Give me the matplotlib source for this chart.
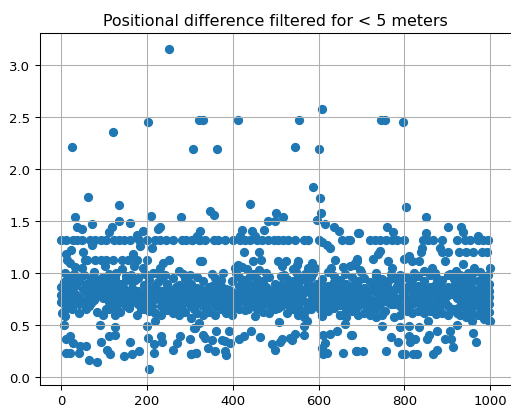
import matplotlib
matplotlib.use('Agg')
import matplotlib.pyplot as plt

# punti isolati in alto
top_x = [25, 121, 202, 251, 306, 322, 331, 362, 411, 546, 555, 602, 608, 746, 755, 797]
top_y = [2.21, 2.35, 2.45, 3.15, 2.19, 2.47, 2.47, 2.19, 2.47, 2.21, 2.47, 2.19, 2.57, 2.47, 2.47, 2.45]

upper_x = [62, 135, 32, 209, 278, 71, 135, 160, 37, 47, 117, 112, 229, 225, 191, 176, 184, 71, 211,
           587, 603, 606, 347, 355, 440, 501, 518, 483, 498, 597, 615, 635, 648, 323, 316, 421, 444, 473, 693, 452, 417,
           607, 619, 627, 803, 851, 759, 903, 932, 936, 695, 773, 851, 973]
upper_y = [1.73, 1.65, 1.54, 1.55, 1.535, 1.47, 1.50, 1.48, 1.44, 1.42, 1.44, 1.39, 1.44, 1.42, 1.40, 1.37, 1.26, 1.27, 1.24,
           1.83, 1.72, 1.58, 1.60, 1.56, 1.66, 1.58, 1.54, 1.50, 1.50, 1.51, 1.47, 1.44, 1.40, 1.40, 1.36, 1.41, 1.40, 1.41, 1.38, 1.36, 1.36,
           1.30, 1.27, 1.24, 1.63, 1.54, 1.44, 1.44, 1.44, 1.39, 1.38, 1.39, 1.38, 1.36]

# valore che si ripete intorno a 1.32
row132_x = [-1, 11, 26, 37, 47, 67, 79, 92, 104, 123, 135, 147, 159, 180, 199, 219, 230, 243, 261, 281, 291, 304, 320,
            304, 323, 335, 355, 366, 382, 401, 417, 428, 440, 456, 467, 483, 495, 506, 518, 529, 545, 565, 576, 600,
            655, 673, 669, 720, 732, 743, 757, 771, 782, 800, 843, 856, 868, 887, 922, 942, 953, 973, 984, 996]
row132_y = 1.32

row113_x = [23, 11, 51, 14, 20, 32, 47, 55, 59, 79, 92, 104, 121, 141, 156, 176, 199, 166, 102, 141, 170, 190, 250, 238, 230, 222, 275, 323,
            427, 461, 327, 446, 465, 506, 524, 553, 638, 689, 514, 413, 405, 421, 432, 460, 549, 541, 584, 576, 592, 628, 658, 673, 685,
            841, 838, 743, 739, 883, 887, 903, 928, 945, 960, 981, 992, 690, 685, 728, 763, 800, 812, 817, 834, 895, 938, 963, 1000, 864, 771, 697]
row113_y = [1.22, 1.18, 1.2, 1.13, 1.1, 1.06, 1.05, 1.13, 1.13, 1.13, 1.13, 1.13, 1.13, 1.13, 1.13, 1.13, 1.13, 1.18, 1.07, 1.04, 1.07, 1.05, 1.13, 1.1, 1.05, 1.0, 1.02, 1.12,
            1.2, 1.2, 1.12, 1.12, 1.13, 1.12, 1.12, 1.12, 1.13, 1.12, 1.07, 1.08, 1.05, 1.06, 1.04, 1.03, 1.08, 1.04, 1.1, 1.05, 1.05, 1.05, 1.06, 1.07, 1.08,
            1.24, 1.2, 1.21, 1.18, 1.24, 1.2, 1.2, 1.2, 1.2, 1.2, 1.2, 1.2, 1.14, 1.1, 1.14, 1.12, 1.14, 1.16, 1.12, 1.12, 1.12, 1.09, 1.05, 1.05, 1.05, 1.05, 1.03]

lower_x = [2, 9, 5, 90, 199, 219, 176, 125, 20, 11, 26, 44, 58, 92, 110, 125, 159, 201, 232, 234, 215, 277, 269, 261, 300, 310,
           11, 20, 41, 107, 114, 145, 164, 180, 216, 302, 314, 65, 82, 205,
           452, 508, 565, 572, 565, 566, 545, 533, 537, 514, 509, 491, 498, 463, 442, 425, 415, 390, 361, 351, 374, 382, 393, 331, 335, 312, 322,
           343, 358, 382, 384, 314, 302, 611, 627, 642, 662, 675, 607, 650, 615, 607, 611, 620, 658, 689,
           806, 873, 856, 747, 790, 812, 835, 922, 1000, 957, 677, 768, 786, 810, 825, 813, 858, 854, 877, 907, 895, 909, 960, 967, 914,
           687, 703, 757, 794, 802, 821, 829, 866, 876]
lower_y = [0.62, 0.59, 0.5, 0.5, 0.49, 0.54, 0.6, 0.48, 0.4, 0.37, 0.33, 0.3, 0.3, 0.34, 0.4, 0.41, 0.34, 0.38, 0.4, 0.34, 0.32, 0.4, 0.33, 0.26, 0.37, 0.47,
           0.23, 0.23, 0.23, 0.26, 0.22, 0.2, 0.22, 0.25, 0.23, 0.22, 0.23, 0.17, 0.15, 0.08,
           0.59, 0.53, 0.58, 0.54, 0.49, 0.41, 0.42, 0.38, 0.36, 0.37, 0.34, 0.32, 0.26, 0.39, 0.44, 0.4, 0.37, 0.44, 0.44, 0.36, 0.36, 0.35, 0.33, 0.41, 0.38, 0.47, 0.52,
           0.28, 0.25, 0.25, 0.21, 0.23, 0.22, 0.41, 0.42, 0.44, 0.51, 0.41, 0.59, 0.6, 0.33, 0.28, 0.22, 0.23, 0.23, 0.25,
           0.64, 0.61, 0.54, 0.49, 0.48, 0.49, 0.48, 0.5, 0.54, 0.54, 0.41, 0.39, 0.34, 0.4, 0.37, 0.34, 0.41, 0.37, 0.44, 0.44, 0.37, 0.37, 0.43, 0.34, 0.29,
           0.25, 0.25, 0.25, 0.22, 0.22, 0.22, 0.22, 0.22, 0.26]

# fascia densa: una riga di y per ogni x
band_x = [-1, 6, 17, 31, 42, 58, 70, 83, 97, 110, 124, 137, 150, 165, 178, 192, 205, 219, 233, 247, 260, 274, 289, 303,
          316, 330, 344, 358, 372, 385, 399, 414, 428, 441, 456, 470, 484, 498, 512, 526, 540, 553, 568, 582, 596, 609,
          623, 637, 651, 665, 679, 693, 707, 721, 735, 749, 763, 777, 791, 805, 819, 833, 847, 861, 875, 889, 903, 917,
          931, 945, 959, 973, 987, 997]
band_y = [[0.72, 0.79, 0.87], [0.64, 0.71, 0.78, 0.84, 0.91], [0.68, 0.76, 0.83, 0.92, 0.97], [0.73, 0.8, 0.88, 0.95],
          [0.62, 0.7, 0.77, 0.92, 0.96], [0.66, 0.74, 0.82, 0.9], [0.71, 0.78, 0.85, 0.95], [0.63, 0.78, 0.84, 0.93],
          [0.6, 0.76, 0.83, 0.89, 0.96], [0.66, 0.72, 0.8, 0.87, 0.93], [0.6, 0.7, 0.77, 0.84, 0.95], [0.63, 0.72, 0.79, 0.9],
          [0.68, 0.75, 0.83, 0.93, 0.97], [0.72, 0.79, 0.86, 0.91], [0.7, 0.76, 0.83, 0.95], [0.66, 0.74, 0.8, 0.89],
          [0.64, 0.71, 0.78, 0.85, 0.93], [0.62, 0.75, 0.81, 0.88], [0.6, 0.68, 0.74, 0.83, 0.94], [0.65, 0.72, 0.79, 0.86, 0.9],
          [0.62, 0.7, 0.77, 0.84, 0.95], [0.6, 0.67, 0.74, 0.81, 0.89], [0.63, 0.72, 0.8, 0.87, 0.94], [0.57, 0.68, 0.75, 0.83, 0.9],
          [0.62, 0.7, 0.77, 0.86, 0.96], [0.6, 0.68, 0.76, 0.83, 0.92], [0.63, 0.71, 0.79, 0.87], [0.6, 0.68, 0.75, 0.84, 0.95],
          [0.66, 0.72, 0.8, 0.88, 0.93], [0.62, 0.7, 0.78, 0.85], [0.6, 0.67, 0.75, 0.82, 0.92], [0.66, 0.73, 0.8, 0.88, 0.96],
          [0.65, 0.72, 0.79, 0.86, 0.93], [0.68, 0.76, 0.83, 0.9, 0.97], [0.66, 0.73, 0.8, 0.88, 0.94], [0.63, 0.7, 0.78, 0.85, 0.92],
          [0.62, 0.69, 0.77, 0.84, 0.96], [0.66, 0.73, 0.82, 0.9], [0.68, 0.75, 0.83, 0.89, 0.97], [0.62, 0.7, 0.8, 0.87, 0.94],
          [0.66, 0.73, 0.79, 0.86, 0.92], [0.6, 0.68, 0.74, 0.83, 0.9, 0.96], [0.64, 0.72, 0.85, 0.93], [0.66, 0.73, 0.8, 0.88, 0.96],
          [0.68, 0.75, 0.82, 0.9], [0.6, 0.67, 0.74, 0.83, 0.94], [0.64, 0.72, 0.8, 0.88], [0.67, 0.75, 0.83, 0.91, 0.97],
          [0.6, 0.69, 0.77, 0.85, 0.93], [0.58, 0.66, 0.74, 0.82, 0.9], [0.64, 0.72, 0.8, 0.88, 0.96], [0.6, 0.68, 0.76, 0.84, 0.92],
          [0.62, 0.7, 0.78, 0.86, 0.95], [0.6, 0.67, 0.75, 0.83, 0.91], [0.58, 0.66, 0.74, 0.82, 0.9, 0.97], [0.6, 0.72, 0.8, 0.88, 0.94],
          [0.72, 0.79, 0.86, 0.92], [0.58, 0.7, 0.77, 0.84, 0.95], [0.6, 0.68, 0.76, 0.85, 0.91], [0.68, 0.75, 0.84, 0.96],
          [0.62, 0.7, 0.78, 0.86, 0.93], [0.64, 0.72, 0.8, 0.88, 0.97], [0.62, 0.69, 0.77, 0.85, 0.92], [0.64, 0.72, 0.8, 0.87, 0.98],
          [0.66, 0.74, 0.82, 0.9, 0.96], [0.62, 0.7, 0.78, 0.86, 0.93], [0.6, 0.68, 0.79, 0.87, 0.98], [0.66, 0.8, 0.88, 0.94],
          [0.6, 0.68, 0.75, 0.83, 0.91, 0.98], [0.58, 0.66, 0.73, 0.81, 0.89, 0.96], [0.62, 0.7, 0.78, 0.86, 0.93, 0.99],
          [0.6, 0.68, 0.76, 0.84, 0.92], [0.56, 0.64, 0.72, 0.8, 0.88, 0.95], [0.54, 0.63, 0.7, 0.77, 0.83, 0.9]]

# punti che riempiono i vuoti della fascia
fill_x = [12, 24, 37, 50, 64, 77, 90, 104, 117, 130, 144, 157, 171, 185, 199, 212, 226, 240, 254, 267, 282, 296,
          310, 323, 337, 351, 365, 379, 392, 407, 421, 435, 449, 463, 477, 491, 505, 519, 533, 547, 561, 575,
          589, 603, 616, 630, 644, 658, 672, 686, 700, 714, 728, 742, 756, 770, 784, 798, 812, 826, 840, 854,
          868, 882, 896, 910, 924, 938, 952, 966, 980, 992]
fill_y1 = [0.74, 0.66, 0.78, 0.72, 0.68, 0.74, 0.8, 0.66, 0.76, 0.66, 0.74, 0.67, 0.78, 0.66, 0.72, 0.68, 0.79, 0.71, 0.68, 0.74, 0.66, 0.78,
           0.66, 0.74, 0.67, 0.72, 0.79, 0.66, 0.72, 0.69, 0.75, 0.66, 0.72, 0.67, 0.74, 0.7, 0.67, 0.72, 0.75, 0.7, 0.64, 0.71,
           0.69, 0.66, 0.72, 0.68, 0.71, 0.73, 0.7, 0.68, 0.72, 0.65, 0.71, 0.68, 0.64, 0.7, 0.72, 0.65, 0.66, 0.72, 0.68, 0.66,
           0.7, 0.67, 0.72, 0.65, 0.62, 0.72, 0.65, 0.69, 0.66, 0.62]
fill_y2 = [0.86, 0.88, 0.91, 0.85, 0.81, 0.9, 0.94, 0.87, 0.89, 0.82, 0.87, 0.82, 0.93, 0.8, 0.86, 0.82, 0.91, 0.83, 0.81, 0.87, 0.8, 0.9,
           0.79, 0.85, 0.84, 0.88, 0.91, 0.8, 0.84, 0.8, 0.92, 0.78, 0.86, 0.8, 0.87, 0.82, 0.8, 0.87, 0.86, 0.83, 0.79, 0.87,
           0.81, 0.79, 0.87, 0.82, 0.85, 0.88, 0.84, 0.8, 0.85, 0.78, 0.86, 0.8, 0.78, 0.83, 0.88, 0.79, 0.89, 0.86, 0.8, 0.79,
           0.84, 0.8, 0.86, 0.8, 0.76, 0.85, 0.8, 0.82, 0.8, 0.76]

# punti sparsi appena sopra la fascia
edge_x = [8, 29, 52, 76, 111, 128, 163, 196, 214, 241, 283, 301, 352, 376, 408, 448, 477, 519, 547, 569, 588, 622, 662,
          699, 733, 769, 791, 822, 846, 872, 907, 921, 948, 977, 995]
edge_y = [1.0, 0.99, 0.98, 1.01, 0.99, 1.0, 0.98, 0.99, 1.0, 0.98, 0.99, 0.98, 0.99, 1.0, 1.0, 0.99, 1.0, 0.98, 1.01, 0.99, 1.0, 1.01, 0.99,
          1.01, 1.0, 0.99, 0.98, 1.0, 1.02, 1.0, 0.99, 1.02, 1.0, 1.01, 0.98]

all_x = top_x + upper_x + row132_x + row113_x + lower_x + fill_x + fill_x + edge_x
all_y = top_y + upper_y + [row132_y] * len(row132_x) + row113_y + lower_y + fill_y1 + fill_y2 + edge_y
for x, ys in zip(band_x, band_y):
    all_x += [x] * len(ys)
    all_y += ys

fig = plt.figure(figsize=(511 / 95, 409 / 95), dpi=95)
ax = fig.add_axes([39.5 / 511, 1 - 386 / 409, 472 / 511, 352 / 409])
ax.scatter(all_x, all_y)
ax.grid()
ax.set_title("Positional difference filtered for < 5 meters")
fig.savefig('out.png', dpi=95)
